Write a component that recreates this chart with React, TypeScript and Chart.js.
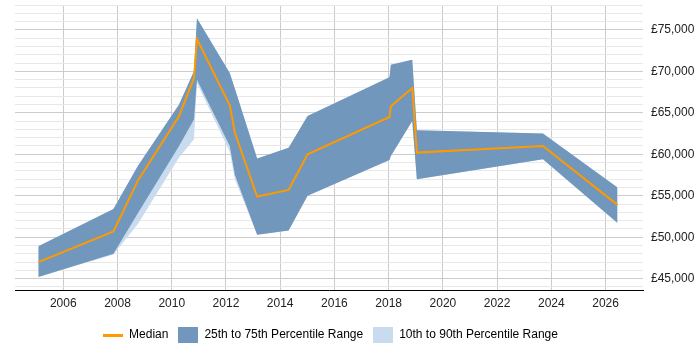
import React, { useEffect, useRef } from "react";
import { Chart, registerables } from "chart.js";

Chart.register(...registerables);

// Decimal years of each sample
const years = [
  2005.08, 2007.85, 2008.75, 2010.27, 2010.82, 2010.93, 2012.14, 2012.33,
  2013.15, 2014.31, 2015.01, 2018.03, 2018.08, 2018.87, 2019.04, 2023.69, 2026.44,
];
const median = [
  47000, 50700, 56800, 64600, 69200, 73900, 65900, 62600,
  54900, 55700, 60000, 64500, 65800, 68000, 60200, 61000, 53900,
];
const p25 = [
  45200, 48000, 52900, 61000, 64200, 69000, 61000, 57500,
  50300, 50800, 55000, 59300, 59800, 64000, 57000, 59400, 51700,
];
const p75 = [
  48900, 53400, 58600, 66000, 70000, 76400, 69800, 67900,
  59500, 60800, 64600, 69300, 70800, 71400, 62900, 62500, 56000,
];
const p10 = [
  45200, 47900, 51600, 59600, 61800, 68600, 60300, 57000,
  50300, 50800, 55000, 59300, 59800, 64000, 57000, 59400, 51700,
];
const p90 = [
  48900, 53400, 58600, 66000, 70000, 76400, 69800, 67900,
  59500, 60800, 64600, 69300, 70800, 71400, 62900, 62500, 56000,
];
const xTicks = [2006, 2008, 2010, 2012, 2014, 2016, 2018, 2020, 2022, 2024, 2026];
const yTicks = [
  44000, 45000, 46000, 47000, 48000, 49000, 50000, 51000, 52000, 53000, 54000, 55000,
  56000, 57000, 58000, 59000, 60000, 61000, 62000, 63000, 64000, 65000, 66000, 67000,
  68000, 69000, 70000, 71000, 72000, 73000, 74000, 75000, 76000, 77000, 78000,
];
const legendLabels = ["Median", "25th to 75th Percentile Range", "10th to 90th Percentile Range"];

const ORANGE = "#FF9900";
const DARK = "#7197BC";
const LIGHT = "#C9DBEE";

function pts(vals: number[]) {
  return vals.map((v, i) => ({ x: years[i], y: v }));
}

function swatch(kind: "line" | "box", color: string) {
  const c = document.createElement("canvas");
  c.width = 20;
  c.height = 16;
  const g = c.getContext("2d")!;
  g.fillStyle = color;
  if (kind === "line") g.fillRect(0, 7, 20, 3);
  else g.fillRect(0, 0, 20, 16);
  return c;
}

export default function App() {
  const ref = useRef<HTMLCanvasElement | null>(null);

  useEffect(() => {
    document.body.style.margin = "0";
    const canvas = ref.current!;
    const swatches = [swatch("line", ORANGE), swatch("box", DARK), swatch("box", LIGHT)];
    const font = { family: "Arial, 'Liberation Sans', sans-serif", size: 12 };

    const legendShift = {
      id: "legendShift",
      afterLayout(chart: any) {
        const l = chart.legend;
        if (!l) return;
        l.left -= 27;
        l.right -= 27;
        l.top += 3;
        l.bottom += 3;
      },
    };

    const chart = new Chart(canvas, {
      type: "line",
      data: {
        datasets: [
          { label: "Median", data: pts(median), borderColor: ORANGE, borderWidth: 2, pointRadius: 0, fill: false, tension: 0 },
          { label: "p75", data: pts(p75), borderWidth: 0, borderColor: "rgba(0,0,0,0)", pointRadius: 0, fill: 2, backgroundColor: DARK, tension: 0 },
          { label: "p25", data: pts(p25), borderWidth: 0, borderColor: "rgba(0,0,0,0)", pointRadius: 0, fill: false, tension: 0 },
          { label: "p90", data: pts(p90), borderWidth: 0, borderColor: "rgba(0,0,0,0)", pointRadius: 0, fill: 4, backgroundColor: LIGHT, tension: 0 },
          { label: "p10", data: pts(p10), borderWidth: 0, borderColor: "rgba(0,0,0,0)", pointRadius: 0, fill: false, tension: 0 },
        ],
      },
      options: {
        animation: false,
        responsive: false,
        maintainAspectRatio: false,
        layout: { padding: { left: 15, right: 0, top: 5, bottom: 2 } },
        plugins: {
          tooltip: { enabled: false },
          legend: {
            position: "bottom",
            onClick: () => {},
            labels: {
              usePointStyle: true,
              pointStyleWidth: 20,
              boxHeight: 12,
              padding: 10,
              color: "#222",
              font,
              generateLabels: () =>
                legendLabels.map((t, i) => ({
                  text: t,
                  pointStyle: swatches[i] as any,
                  fillStyle: "rgba(0,0,0,0)",
                  strokeStyle: "rgba(0,0,0,0)",
                  lineWidth: 0,
                  hidden: false,
                  datasetIndex: i,
                })),
            },
          },
        },
        scales: {
          x: {
            type: "linear",
            min: 2004.22,
            max: 2027.38,
            afterBuildTicks: (s: any) => {
              s.ticks = xTicks.map((v) => ({ value: v }));
            },
            afterFit: (s: any) => {
              s.paddingLeft = 0;
              s.paddingRight = 0;
            },
            grid: { color: "#cccccc", drawTicks: false },
            border: { color: "#000", width: 1 },
            ticks: {
              autoSkip: false,
              maxRotation: 0,
              padding: 5.5,
              color: "#222",
              font,
              callback: (v: any) => String(Math.round(Number(v))),
            },
          },
          y: {
            position: "right",
            min: 43560,
            max: 78000,
            afterBuildTicks: (s: any) => {
              s.ticks = yTicks.map((v) => ({ value: v }));
            },
            afterFit: (s: any) => {
              s.paddingTop = 0;
              s.paddingBottom = 0;
              s.width = 57;
            },
            grid: {
              drawTicks: false,
              color: (ctx: any) => (ctx.tick && ctx.tick.value % 5000 === 0 ? "#cccccc" : "#e8e8e8"),
            },
            border: { display: false },
            ticks: {
              autoSkip: false,
              padding: 8,
              color: "#222",
              font,
              callback: (v: any) =>
                Number(v) % 5000 === 0 ? "£" + Number(v).toLocaleString("en-GB") : "",
            },
          },
        },
      },
      plugins: [legendShift],
    } as any);

    return () => chart.destroy();
  }, []);

  return (
    <div style={{ width: 700, height: 350 }}>
      <canvas ref={ref} width={700} height={350} style={{ display: "block" }} />
    </div>
  );
}
